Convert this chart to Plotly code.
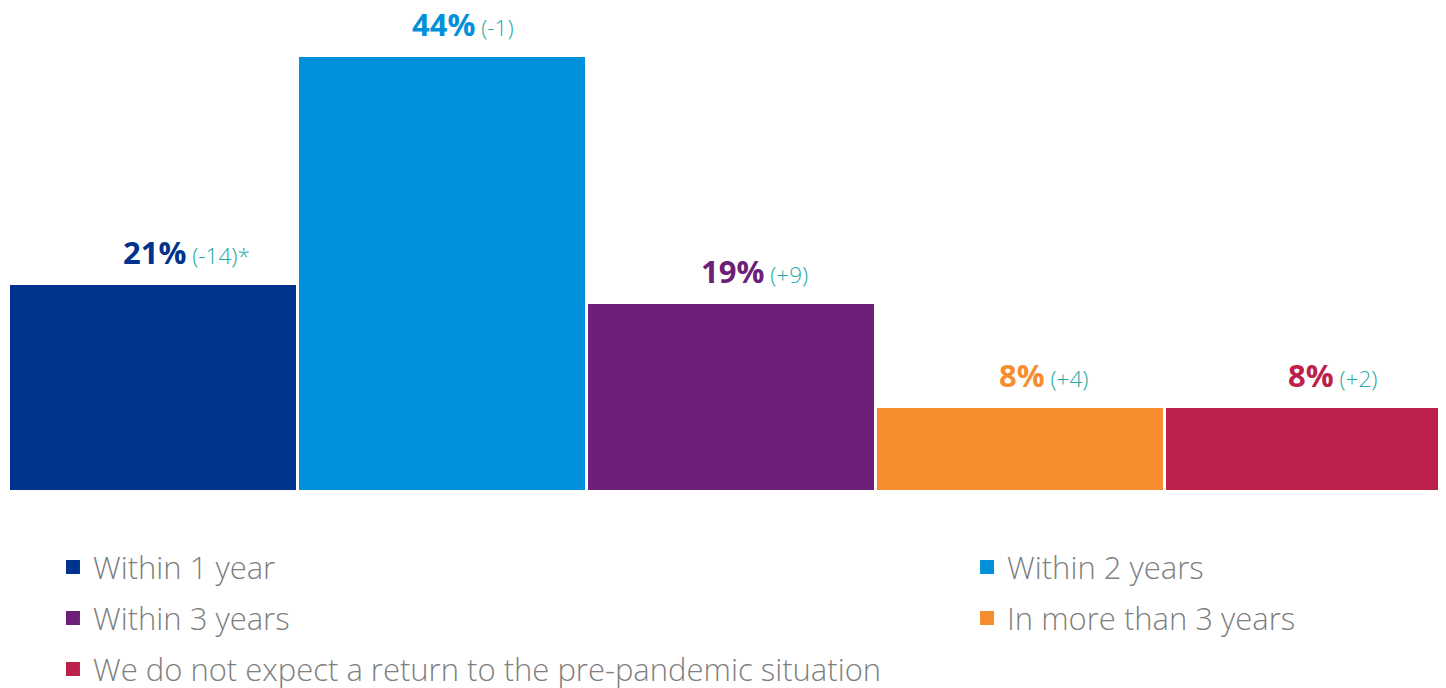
import plotly.graph_objects as go

categories = ["Within 1 year", "Within 2 years", "Within 3 years",
              "In more than 3 years",
              "We do not expect a return to the pre-pandemic situation"]
values = [20.8, 44.0, 18.8, 8.2, 8.2]          # bar heights
labels = ["21%", "44%", "19%", "8%", "8%"]
deltas = ["(-14)*", "(-1)", "(+9)", "(+4)", "(+2)"]
colors = ["#00338D", "#0091DA", "#6D2077", "#F68D2E", "#BC204B"]
legend_column = ["legend", "legend2", "legend", "legend2", "legend"]

FONT = "Open Sans"
DELTA_COLOR = "#1FAAA5"
LEGEND_GRAY = "#7F7F7F"
BOLD_SIZE = 31
DELTA_SIZE = 22.5

# approximate Open Sans Bold advance widths (em) to center the bold value
BOLD_W = {d: 0.572 for d in "0123456789"}
BOLD_W["%"] = 0.89


def bold_width(s):
    return sum(BOLD_W.get(c, 0.6) for c in s) * BOLD_SIZE


fig = go.Figure()
for i, (cat, v, col) in enumerate(zip(categories, values, colors)):
    fig.add_trace(go.Bar(
        x=[i], y=[v], name=cat,
        marker=dict(color=col, line=dict(color=col, width=2)),
        legend=legend_column[i], legendgroup=cat,
        hoverinfo="skip", width=0.9827,
    ))
    fig.add_annotation(
        x=i, y=v, xref="x", yref="y",
        text=(f"<b>{labels[i]}</b><span style='font-size:{DELTA_SIZE}px;"
              f"color:{DELTA_COLOR};font-weight:300'> {deltas[i]}</span>"),
        showarrow=False, xanchor="left", yanchor="bottom",
        xshift=-bold_width(labels[i]) / 2, yshift=11,
        font=dict(family=FONT, size=BOLD_SIZE, color=col),
    )

legend_style = dict(
    xanchor="left", yanchor="top",
    orientation="v", tracegroupgap=7.7,
    font=dict(family=FONT, size=31, color=LEGEND_GRAY, weight=300),
    bgcolor="rgba(0,0,0,0)",
)

fig.update_layout(
    width=1438, height=680,
    margin=dict(l=1, r=0, t=0, b=198, autoexpand=False),
    paper_bgcolor="white", plot_bgcolor="white",
    bargap=0, barmode="overlay",
    xaxis=dict(range=[-0.498, 4.4743], visible=False, fixedrange=True),
    yaxis=dict(range=[0, 49.09], visible=False, fixedrange=True),
    showlegend=True,
    legend=dict(x=0.0306, y=-0.1044, **legend_style),
    legend2=dict(x=0.6667, y=-0.1044, **legend_style),
    font=dict(family=FONT),
)

fig.write_html("out.html")
